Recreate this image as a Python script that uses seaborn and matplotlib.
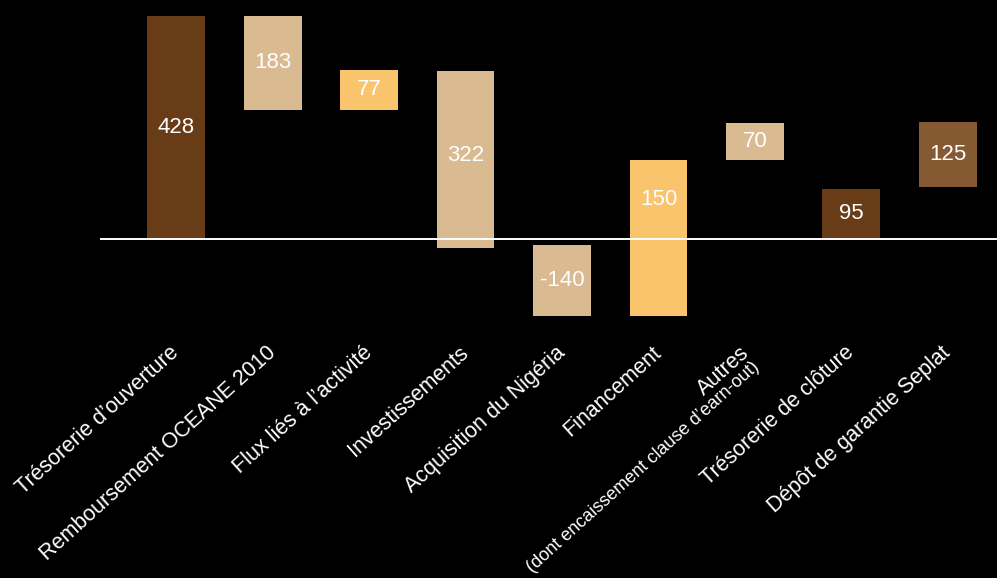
import matplotlib
matplotlib.use("Agg")
import matplotlib.pyplot as plt
import matplotlib.transforms as mtransforms
import seaborn as sns
import pandas as pd

# Waterfall data (bar extents, value labels as printed)
categories = [
    "Trésorerie d’ouverture",
    "Remboursement OCEANE 2010",
    "Flux liés à l’activité",
    "Investissements",
    "Acquisition du Nigéria",
    "Financement",
    "Autres",
    "Trésorerie de clôture",
    "Dépôt de garantie Seplat",
]
bar_low = [0, 248, 248, -17, -148, -148, 152, 0, 100]
bar_high = [428, 428, 324, 322, -11, 152, 223, 96, 225]
value_labels = ["428", "183", "77", "322", "-140", "150", "70", "95", "125"]
autres_note = "(dont encaissement clause d’earn-out)"

colors = ["#693C18", "#D9BA91", "#F9C46B", "#D9BA91", "#D9BA91",
          "#F9C46B", "#D9BA91", "#693C18", "#855A33"]

sns.set_theme(style="dark", rc={"axes.facecolor": "black",
                                "figure.facecolor": "black",
                                "savefig.facecolor": "black"})
plt.rcParams["font.family"] = ["Liberation Sans", "DejaVu Sans"]

df = pd.DataFrame({
    "cat": categories,
    "height": [h - l for l, h in zip(bar_low, bar_high)],
})

fig = plt.figure(figsize=(9.97, 5.78), dpi=100)
ax = fig.add_axes([100 / 997, 248 / 578, 897 / 997, 330 / 578])

sns.barplot(data=df, x="cat", y="height", order=categories, bottom=bar_low,
            color=colors[1], saturation=1, width=0.6, ax=ax, linewidth=0,
            errorbar=None)
for patch, c in zip(ax.patches, colors):
    patch.set_facecolor(c)
    patch.set_edgecolor("none")

ax.set_xlim(-0.79, 8.51)
ax.set_ylim(-174.7, 458.7)
ax.axhline(0, color="white", lw=1.4, zorder=5)

# value labels
for i, (lo, hi, lab) in enumerate(zip(bar_low, bar_high, value_labels)):
    if lo < 0 < hi:
        y = hi / 2
    else:
        y = (lo + hi) / 2
    ax.text(i, y, lab, color="white", ha="center", va="center",
            fontsize=16, zorder=6)

# category labels, rotated
base = mtransforms.blended_transform_factory(ax.transData, ax.transAxes)
trans = mtransforms.offset_copy(base, fig=fig, x=0, y=-20, units="dots")
autres_trans = mtransforms.offset_copy(base, fig=fig, x=-8, y=-20, units="dots")
for i, cat in enumerate(categories):
    ax.text(i, 0, cat, transform=autres_trans if cat == "Autres" else trans,
            rotation=42, rotation_mode="anchor",
            ha="right", va="center", color="white", fontsize=15.5,
            clip_on=False)
note_trans = mtransforms.offset_copy(base, fig=fig, x=2, y=-35, units="dots")
ax.text(6, 0, autres_note, transform=note_trans, rotation=42,
        rotation_mode="anchor", ha="right", va="center", color="white",
        fontsize=13, clip_on=False)

ax.set_xlabel("")
ax.set_ylabel("")
ax.set_xticks([])
ax.set_yticks([])
for s in ax.spines.values():
    s.set_visible(False)
ax.grid(False)

fig.savefig("out.png", dpi=100, facecolor="black")
